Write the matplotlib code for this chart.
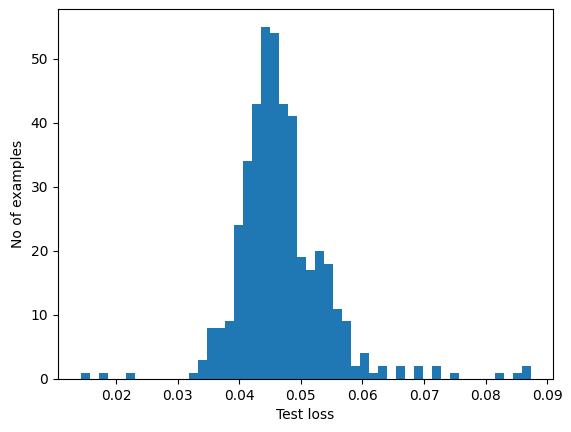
import numpy as np
import matplotlib.pyplot as plt

# histogram of test loss, 50 bins
loss_min = 0.0142
loss_max = 0.0873
counts = [1, 0, 1, 0, 0, 1, 0, 0, 0, 0,
          0, 0, 1, 3, 8, 8, 9, 24, 34, 43,
          55, 54, 43, 41, 19, 17, 20, 18, 11, 9,
          2, 4, 1, 2, 0, 2, 0, 2, 0, 2,
          0, 1, 0, 0, 0, 0, 1, 0, 1, 2]

edges = np.linspace(loss_min, loss_max, len(counts) + 1)
centers = (edges[:-1] + edges[1:]) / 2

fig = plt.figure(figsize=(5.71, 4.32), dpi=100)
ax = fig.add_subplot(111)
fig.subplots_adjust(left=0.1016, right=0.9685, top=0.979, bottom=0.1227)

ax.hist(centers, bins=edges, weights=counts)
ax.set_xlabel("Test loss")
ax.set_ylabel("No of examples")

fig.savefig("out.png", dpi=100)
